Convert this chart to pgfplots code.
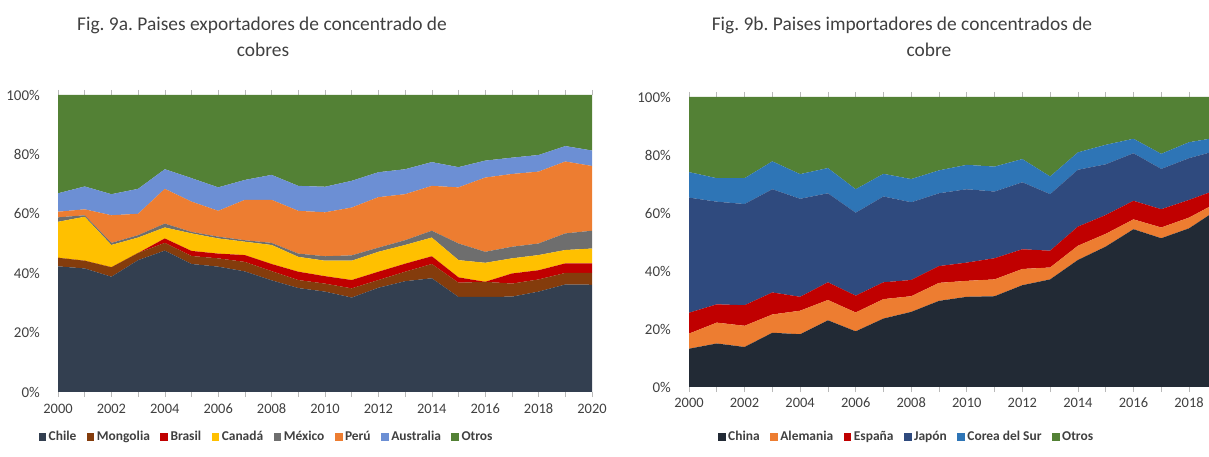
\documentclass[border=0pt]{standalone}
\usepackage{fontspec}
\setmainfont{Carlito}
\usepackage{pgfplots}
\usepackage{pgfplotstable}
\pgfplotsset{compat=1.18}

\definecolor{cChile}{HTML}{333F50}
\definecolor{cMong}{HTML}{843C0C}
\definecolor{cBras}{HTML}{C00000}
\definecolor{cCan}{HTML}{FFC000}
\definecolor{cMex}{HTML}{6E6E6E}
\definecolor{cPeru}{HTML}{ED7D31}
\definecolor{cAus}{HTML}{6C8FD4}
\definecolor{cOtros}{HTML}{538135}
\definecolor{cChina}{HTML}{222A35}
\definecolor{cJap}{HTML}{2F4A7E}
\definecolor{cCorea}{HTML}{2E75B6}
\definecolor{txt}{HTML}{404040}

\pgfplotstableread{
year Chile Mongolia Brasil Canada Mexico Peru Australia Otros
2000 42.3 2.9 0.0 12.1 1.5 1.9 6.2 33.1
2001 41.6 2.6 0.0 14.8 0.5 2.0 7.7 30.8
2002 38.8 3.2 0.0 7.5 0.7 9.3 7.1 33.4
2003 44.4 2.4 0.0 5.2 0.8 7.2 8.4 31.6
2004 47.6 2.6 1.5 3.7 1.3 11.7 6.6 25.0
2005 43.1 2.7 1.7 5.9 0.5 10.2 7.9 28.0
2006 42.2 2.8 1.6 5.1 0.6 8.7 7.9 31.1
2007 40.6 3.2 2.3 4.5 0.5 13.6 6.7 28.6
2008 37.6 3.1 2.4 6.4 0.7 14.5 8.4 26.9
2009 35.0 2.7 2.8 5.0 1.1 14.4 8.4 30.6
2010 33.8 2.7 2.5 5.2 1.5 14.8 8.6 30.9
2011 31.8 3.1 2.8 6.5 1.8 16.1 9.0 28.9
2012 35.1 2.6 2.8 6.7 1.4 17.0 8.4 26.0
2013 37.3 3.2 2.7 6.3 1.6 15.5 8.4 25.0
2014 38.3 4.8 2.6 6.3 2.3 15.1 8.0 22.6
2015 32.0 4.8 1.8 5.8 5.6 18.9 6.8 24.3
2016 32.0 5.1 0.0 6.4 3.7 25.0 5.7 22.1
2017 32.1 4.4 3.4 5.1 3.9 24.5 5.5 21.1
2018 33.8 4.1 3.1 5.1 3.9 24.2 5.6 20.2
2019 36.2 3.9 3.2 4.5 5.6 24.2 5.2 17.2
2020 36.1 4.0 3.2 5.0 6.0 21.8 5.2 18.7
}\exportdata

\pgfplotstableread{
year China Alemania Espana Japon Corea Otros
2000 13.2 5.2 7.2 39.7 8.8 25.9
2001 15.0 7.2 6.3 35.4 8.1 28.0
2002 13.8 7.3 7.1 34.9 8.9 28.0
2003 18.7 6.3 7.6 35.6 9.6 22.2
2004 18.2 8.1 4.8 33.8 8.5 26.6
2005 23.0 7.0 6.1 30.7 8.7 24.5
2006 19.2 6.5 5.8 28.6 8.1 31.8
2007 23.6 6.7 5.8 29.6 7.8 26.5
2008 25.9 5.4 5.6 26.8 8.0 28.3
2009 29.7 6.2 5.8 25.1 7.9 25.3
2010 31.1 5.5 6.3 25.3 8.4 23.4
2011 31.3 5.8 7.3 23.0 8.6 24.0
2012 35.1 5.6 6.8 23.1 8.0 21.4
2013 37.1 4.1 5.8 19.5 6.1 27.4
2014 43.8 4.9 6.6 19.6 6.0 19.1
2015 48.4 4.4 6.5 17.5 6.7 16.5
2016 54.4 3.4 6.4 16.4 5.0 14.4
2017 51.3 3.7 6.3 13.9 5.2 19.6
2018 54.7 3.7 6.1 14.4 5.5 15.6
2019 61.0 2.5 4.5 13.5 4.5 14.0
}\importdata

\pgfplotsset{
  mystyle/.style={
    scale only axis,
    stack plots=y,
    ymin=0, ymax=100,
    axis line style={draw=none},
    ytick={0,20,40,60,80,100},
    yticklabels={0\%,20\%,40\%,60\%,80\%,100\%},
    ytick style={draw=none},
    yticklabel style={font=\fontsize{15}{17}\selectfont, text=txt, anchor=east, inner sep=0pt, xshift=-13bp},
    xticklabel style={font=\fontsize{14.5}{17}\selectfont, text=txt, anchor=center, inner sep=0pt},
    xtick style={draw=gray!55, line width=0.6bp},
    minor x tick style={draw=gray!55, line width=0.6bp},
    tick align=outside,
    major tick length=5bp,
    minor tick length=5bp,
    legend columns=-1,
    legend style={draw=none, fill=none, anchor=center,
      font=\bfseries\fontsize{13.5}{15}\selectfont, text=txt,
      /tikz/every even column/.append style={column sep=8bp},
      nodes={inner ysep=1.5bp, inner xsep=2.5bp}},
    legend image code/.code={\fill[##1] (0bp,-3.8bp) rectangle (7.6bp,3.8bp);},
  }
}

\begin{document}
\frenchspacing
\begin{tikzpicture}
\useasboundingbox (0,0) rectangle (1209bp,457bp);

% ---------- Fig 9a ----------
\begin{axis}[mystyle,
  at={(58bp,65bp)}, anchor=south west,
  width=534bp, height=297bp,
  xmin=2000, xmax=2020,
  xtick={2000,2002,...,2020},
  xticklabels={2000,2002,2004,2006,2008,2010,2012,2014,2016,2018,2020},
  minor xtick={2001,2003,...,2019},
  xticklabel style={yshift=-12bp},
  legend style={at={(0.391,-0.1515)}},
]
\addplot[fill=cChile, draw=none] table[x=year,y=Chile]{\exportdata} \closedcycle;
\addlegendentry{Chile}
\addplot[fill=cMong, draw=none] table[x=year,y=Mongolia]{\exportdata} \closedcycle;
\addlegendentry{Mongolia}
\addplot[fill=cBras, draw=none] table[x=year,y=Brasil]{\exportdata} \closedcycle;
\addlegendentry{Brasil}
\addplot[fill=cCan, draw=none] table[x=year,y=Canada]{\exportdata} \closedcycle;
\addlegendentry{Canadá}
\addplot[fill=cMex, draw=none] table[x=year,y=Mexico]{\exportdata} \closedcycle;
\addlegendentry{México}
\addplot[fill=cPeru, draw=none] table[x=year,y=Peru]{\exportdata} \closedcycle;
\addlegendentry{Perú}
\addplot[fill=cAus, draw=none] table[x=year,y=Australia]{\exportdata} \closedcycle;
\addlegendentry{Australia}
\addplot[fill=cOtros, draw=none] table[x=year,y=Otros]{\exportdata} \closedcycle;
\addlegendentry{Otros}
\end{axis}

% ---------- Fig 9b ----------
\begin{axis}[mystyle,
  at={(689bp,70bp)}, anchor=south west,
  width=520bp, height=290bp,
  xmin=2000, xmax=2018.72,
  xtick={2000,2002,...,2018},
  xticklabels={2000,2002,2004,2006,2008,2010,2012,2014,2016,2018},
  minor xtick={2001,2003,...,2017},
  xticklabel style={yshift=-11bp},
  legend style={at={(0.419,-0.172)}},
]
\addplot[fill=cChina, draw=none] table[x=year,y=China]{\importdata} \closedcycle;
\addlegendentry{China}
\addplot[fill=cPeru, draw=none] table[x=year,y=Alemania]{\importdata} \closedcycle;
\addlegendentry{Alemania}
\addplot[fill=cBras, draw=none] table[x=year,y=Espana]{\importdata} \closedcycle;
\addlegendentry{España}
\addplot[fill=cJap, draw=none] table[x=year,y=Japon]{\importdata} \closedcycle;
\addlegendentry{Japón}
\addplot[fill=cCorea, draw=none] table[x=year,y=Corea]{\importdata} \closedcycle;
\addlegendentry{Corea del Sur}
\addplot[fill=cOtros, draw=none] table[x=year,y=Otros]{\importdata} \closedcycle;
\addlegendentry{Otros}
\end{axis}

% ---------- titles ----------
\node[text=txt, font=\fontsize{19.5}{22}\selectfont, anchor=base] at (262bp,426bp) {Fig. 9a. Paises exportadores de concentrado de};
\node[text=txt, font=\fontsize{19.5}{22}\selectfont, anchor=base] at (263bp,400bp) {cobres};
\node[text=txt, font=\fontsize{19.5}{22}\selectfont, anchor=base] at (902bp,426bp) {Fig. 9b. Paises importadores de concentrados de};
\node[text=txt, font=\fontsize{19.5}{22}\selectfont, anchor=base] at (929bp,400bp) {cobre};
\end{tikzpicture}
\end{document}
